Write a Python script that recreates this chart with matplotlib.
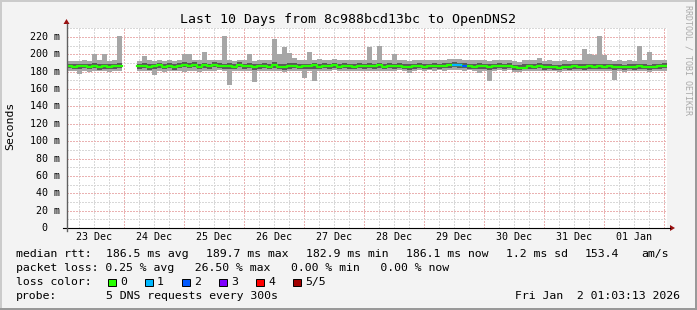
import numpy as np
import matplotlib.pyplot as plt
import matplotlib.transforms as mtransforms
from matplotlib.patches import Rectangle, Polygon
from matplotlib.lines import Line2D

W, H = 697, 310
MONO = 'DejaVu Sans Mono'

# ---- data: 10 days, 2 h bins, 5 sorted pings per bin (ms) ----
start_day = 0.0533          # days after 23 Dec 00:00
bin_days = 1 / 12
nan = np.nan

ping1 = [181, 180.5, 177, 181, 180, 181, 180.5, 181, 180, 181, 180.5, nan,
         nan, nan, 181, 180.5, 181, 176, 181, 180, 181, 180.5, 181, 180,
         180.5, 181, 180, 181, 180.5, 181, 181.5, 180.5, 165, 181, 180.5, 181,
         180.5, 168, 181, 180.5, 181, 180.5, 181, 180, 181, 180.5, 181, 173,
         181, 169, 181, 180.5, 181, 181.5, 181, 180.5, 181, 181, 180.5, 181,
         181, 180.5, 181, 181, 180.5, 181, 181.5, 181, 178, 181, 181.5, 181,
         181.5, 181, 181.5, 181, 181.5, 182, 181.5, 181, 181.5, 181, 178, 181,
         169, 181, 181.5, 181, 181.5, 180, 179.5, 180.5, 181, 180.5, 181, 180.5,
         181, 180.5, 180, 181, 180.5, 181, 180.5, 181, 180.5, 181, 181, 180.5,
         181, 170, 180.5, 180, 181, 180.5, 181, 180.5, 180, 181, 180.5, 181]

ping2 = [184, 183.5, 183, 184, 183, 184, 182.5, 183.5, 183, 183.5, 184, nan,
         nan, nan, 183.5, 184, 182.5, 183, 184.5, 183, 184, 182.5, 184, 185,
         184, 185, 183, 184.5, 183.5, 185, 184, 183.5, 183, 183, 185, 183.5,
         184, 182, 183.5, 184, 183, 184.5, 183, 182.5, 183.5, 184, 183, 183,
         183.5, 183, 183, 184, 183.5, 184.5, 183, 184, 183.5, 183, 184, 183.5,
         184, 183.5, 184.5, 183, 184, 183.5, 184, 183, 182, 183.5, 184, 183,
         183.5, 184, 183.5, 184, 184.5, 185, 184.5, 184, 183.5, 183, 183, 183.5,
         182, 183.5, 184, 183.5, 184, 182, 181.5, 183, 183.5, 183, 184, 182.5,
         183, 182, 181.5, 183, 182.5, 183.5, 183, 182.5, 183.5, 183, 183.5, 183,
         183.5, 182, 183, 182, 183, 182.5, 183.5, 183, 182, 183, 183.5, 184]

median = [187, 186, 186.5, 187, 186, 187, 185.5, 186.5, 186, 186.5, 187, nan,
          nan, nan, 186.5, 187, 185.5, 186.5, 187.5, 186, 187, 185.5, 187, 188,
          187, 188, 186, 187.5, 186.5, 188, 187, 186.5, 187, 186, 188, 186.5,
          187, 185.5, 186.5, 187, 186, 187.5, 186, 185.5, 186.5, 187, 186, 187,
          186.5, 187.5, 186, 187, 186.5, 187.5, 186, 187, 186.5, 186, 187, 186.5,
          187, 186.5, 187.5, 186, 187, 186.5, 187, 186, 185.5, 186.5, 187, 186,
          186.5, 187, 186.5, 187, 187.5, 188, 187.5, 187, 186.5, 186, 187, 186.5,
          186, 186.5, 187, 186.5, 187, 185, 184, 184.5, 186.5, 186, 187, 185.5,
          186, 185, 184.5, 186, 185.5, 186.5, 186, 185.5, 186.5, 186, 186.5, 186,
          186.5, 185.5, 186, 185, 186, 185.5, 186.5, 186, 185, 186, 186.5, 187]

ping4 = [189.5, 189, 189, 189.5, 189, 190, 188.5, 189, 189, 189.5, 190, nan,
         nan, nan, 189.5, 190, 188.5, 189, 190, 189, 190, 188.5, 190.5, 191,
         190, 191, 189, 190.5, 189.5, 191, 190, 189.5, 190, 189, 191, 189.5,
         190, 188.5, 189.5, 190, 189, 191, 189.5, 189, 190, 190, 189, 189.5,
         189.5, 190.5, 189, 190, 189.5, 190.5, 189, 190, 189.5, 189, 190, 189.5,
         190, 189.5, 190.5, 189, 190, 189.5, 190, 189, 188.5, 189.5, 190, 189,
         189.5, 190, 189.5, 190, 190.5, 191, 190.5, 190, 189.5, 189, 190, 189.5,
         189, 189.5, 190, 189.5, 190, 188, 187.5, 189, 189.5, 189, 190, 188.5,
         189, 188, 187.5, 189, 188.5, 189.5, 189, 188.5, 189.5, 189, 189.5, 189,
         189.5, 188.5, 189, 188, 189, 188.5, 189.5, 189, 188, 189, 189.5, 190]

ping5 = [192, 192.5, 192, 193, 192, 200, 193, 200, 192.5, 193, 221, nan,
         nan, nan, 192, 198, 193, 192.5, 193, 192, 193.5, 192, 194, 200,
         200, 194, 193, 203, 193, 194, 193.5, 221, 194, 192.5, 194, 193,
         200, 192, 193, 194, 193, 218, 201, 209, 202, 196, 194, 193,
         203, 194, 195, 193, 194, 195, 193, 194, 193, 193.5, 194, 193,
         208, 193.5, 210, 193, 194, 200, 194, 193, 192, 193, 194, 193,
         193.5, 194, 193, 194, 194.5, 195, 194.5, 194, 193.5, 193, 194, 193,
         192.5, 193.5, 194, 193, 194, 192, 191.5, 193, 193.5, 193, 196, 192.5,
         193, 192, 192, 193, 192.5, 194, 193, 206, 200, 199, 221, 199,
         194, 192, 193, 192, 193, 192.5, 210, 193, 203, 193, 194, 194]

# pings lost per bin (out of 5)
lost = [0] * 120
lost[77] = 1
lost[78] = 1
lost[79] = 2

loss_labels = ['0', '1', '2', '3', '4', '5/5']
loss_colors = ['#26ff00', '#00b8ff', '#0059ff', '#7e00ff', '#ff0000', '#a10000']

day_labels = ['23 Dec', '24 Dec', '25 Dec', '26 Dec', '27 Dec',
              '28 Dec', '29 Dec', '30 Dec', '31 Dec', '01 Jan']
y_values = list(range(0, 221, 20))

title = 'Last 10 Days from 8c988bcd13bc to OpenDNS2'
legend_rtt = [('median rtt:', 16), ('186.5 ms avg', 106), ('189.7 ms max', 206),
              ('182.9 ms min', 306), ('186.1 ms now', 406), ('1.2 ms sd', 506),
              ('153.4', 585), ('am/s', 641)]
legend_loss = 'packet loss: 0.25 % avg   26.50 % max   0.00 % min   0.00 % now'
probe = '5 DNS requests every 300s'
stamp = 'Fri Jan  2 01:03:13 2026'

p1 = np.array(ping1); p2 = np.array(ping2); p3 = np.array(median)
p4 = np.array(ping4); p5 = np.array(ping5); lost = np.array(lost)
t = start_day + bin_days * np.arange(len(p3))

fig = plt.figure(figsize=(W / 100, H / 100), dpi=100, facecolor='#f3f3f3')
ax = fig.add_axes([67 / W, 1 - 228 / H, 600 / W, 200 / H])
ax.set_facecolor('white')

# grid, dotted like rrdtool (drawn by hand so it can be left unsmoothed)
dots = dict(linestyle=(0, (1.5, 1.5)), linewidth=0.72, antialiased=False, zorder=1)
for d in range(1, 41):
    ax.axvline(d / 4, color='#eab2b2' if d % 4 == 0 else '#d8d8d8', **dots)
for v in range(10, 231, 10):
    ax.axhline(v, color='#eab2b2' if v % 20 == 0 else '#d8d8d8', **dots)

# smoke
ax.bar(t, p5 - p1, bottom=p1, width=bin_days, align='edge', color='#a6a6a6', linewidth=0, zorder=2)
ax.bar(t, p4 - p2, bottom=p2, width=bin_days, align='edge', color='#5a5a5a', linewidth=0, zorder=3)

# median coloured by loss
edges = np.append(t, t[-1] + bin_days)
ax.step(edges, np.append(p3, p3[-1]), where='post', color=loss_colors[0], lw=1.6, zorder=4)
for i in np.nonzero(lost > 0)[0]:
    ax.hlines(p3[i], t[i], t[i] + bin_days, color=loss_colors[lost[i]], lw=1.6, zorder=5)

ax.set_xlim(start_day, start_day + len(p3) * bin_days)
ax.set_ylim(0, 230.4)
ax.set_xticks([])
ax.set_yticks([])
for s in ax.spines.values():
    s.set_visible(False)


def px(x, y):
    return x / W, 1 - y / H


# axes lines + arrows
fig.add_artist(Line2D([63 / W, 670 / W], [1 - 228 / H] * 2, color='black', lw=0.8))
fig.add_artist(Line2D([66.5 / W] * 2, [1 - 231 / H, 1 - 24 / H], color='#606060', lw=1.0))
fig.add_artist(Polygon([px(670, 225), px(675, 228), px(670, 231)], closed=True,
                       transform=fig.transFigure, color='#9a1010', lw=0))
fig.add_artist(Polygon([px(63.5, 24), px(66.5, 19), px(69.5, 24)], closed=True,
                       transform=fig.transFigure, color='#9a1010', lw=0))

# axis labels
ytrans = mtransforms.blended_transform_factory(fig.transFigure, ax.transData)
for v in y_values:
    if v == 0:
        fig.text(47.5 / W, v, '0', transform=ytrans, family=MONO, size=7.2, ha='right', va='center')
    else:
        fig.text(59.5 / W, v, '%d m' % v, transform=ytrans, family=MONO, size=7.2, ha='right', va='center')
xtrans = mtransforms.blended_transform_factory(ax.transData, fig.transFigure)
for d, lab in enumerate(day_labels):
    ax.text(d + 0.5, 1 - 237.5 / H, lab, transform=xtrans, family=MONO, size=7.2, ha='center', va='center')

# title, unit, watermark
fig.text(*px(347.5, 19), title, family=MONO, size=9.5, ha='center', va='center')
fig.text(*px(10, 126), 'Seconds', family=MONO, size=8.25, rotation=90, ha='center', va='center')
fig.text(*px(688, 60), 'RRDTOOL / TOBI OETIKER', family=MONO, size=6, rotation=270,
         ha='center', va='center', color='#aaaaaa')

# legend
for s, x in legend_rtt:
    fig.text(*px(x, 254), s, family=MONO, size=8.25, ha='left', va='center')
fig.text(*px(16, 268), legend_loss, family=MONO, size=8.25, ha='left', va='center')
fig.text(*px(16, 282), 'loss color:', family=MONO, size=8.25, ha='left', va='center')
for k, (lab, c) in enumerate(zip(loss_labels, loss_colors)):
    bx = 108 + 37 * k
    fig.add_artist(Rectangle(px(bx, 285.5), 7.5 / W, 7 / H, transform=fig.transFigure,
                             facecolor=c, edgecolor='black', lw=0.7))
    fig.text(*px(bx + 12, 282), lab, family=MONO, size=8.25, ha='left', va='center')
fig.text(*px(16, 296), 'probe:', family=MONO, size=8.25, ha='left', va='center')
fig.text(*px(106, 296), probe, family=MONO, size=8.25, ha='left', va='center')
fig.text(*px(680, 296), stamp, family=MONO, size=8.25, ha='right', va='center')

# 3d frame
fig.add_artist(Line2D([0, 1], [1 - 1 / H] * 2, color='#cbcbcb', lw=1.44))
fig.add_artist(Line2D([1 / W] * 2, [0, 1], color='#cbcbcb', lw=1.44))
fig.add_artist(Line2D([0, 1], [1 / H] * 2, color='#999999', lw=1.44))
fig.add_artist(Line2D([1 - 1 / W] * 2, [0, 1], color='#999999', lw=1.44))

fig.savefig('out.png', dpi=100, facecolor=fig.get_facecolor())
